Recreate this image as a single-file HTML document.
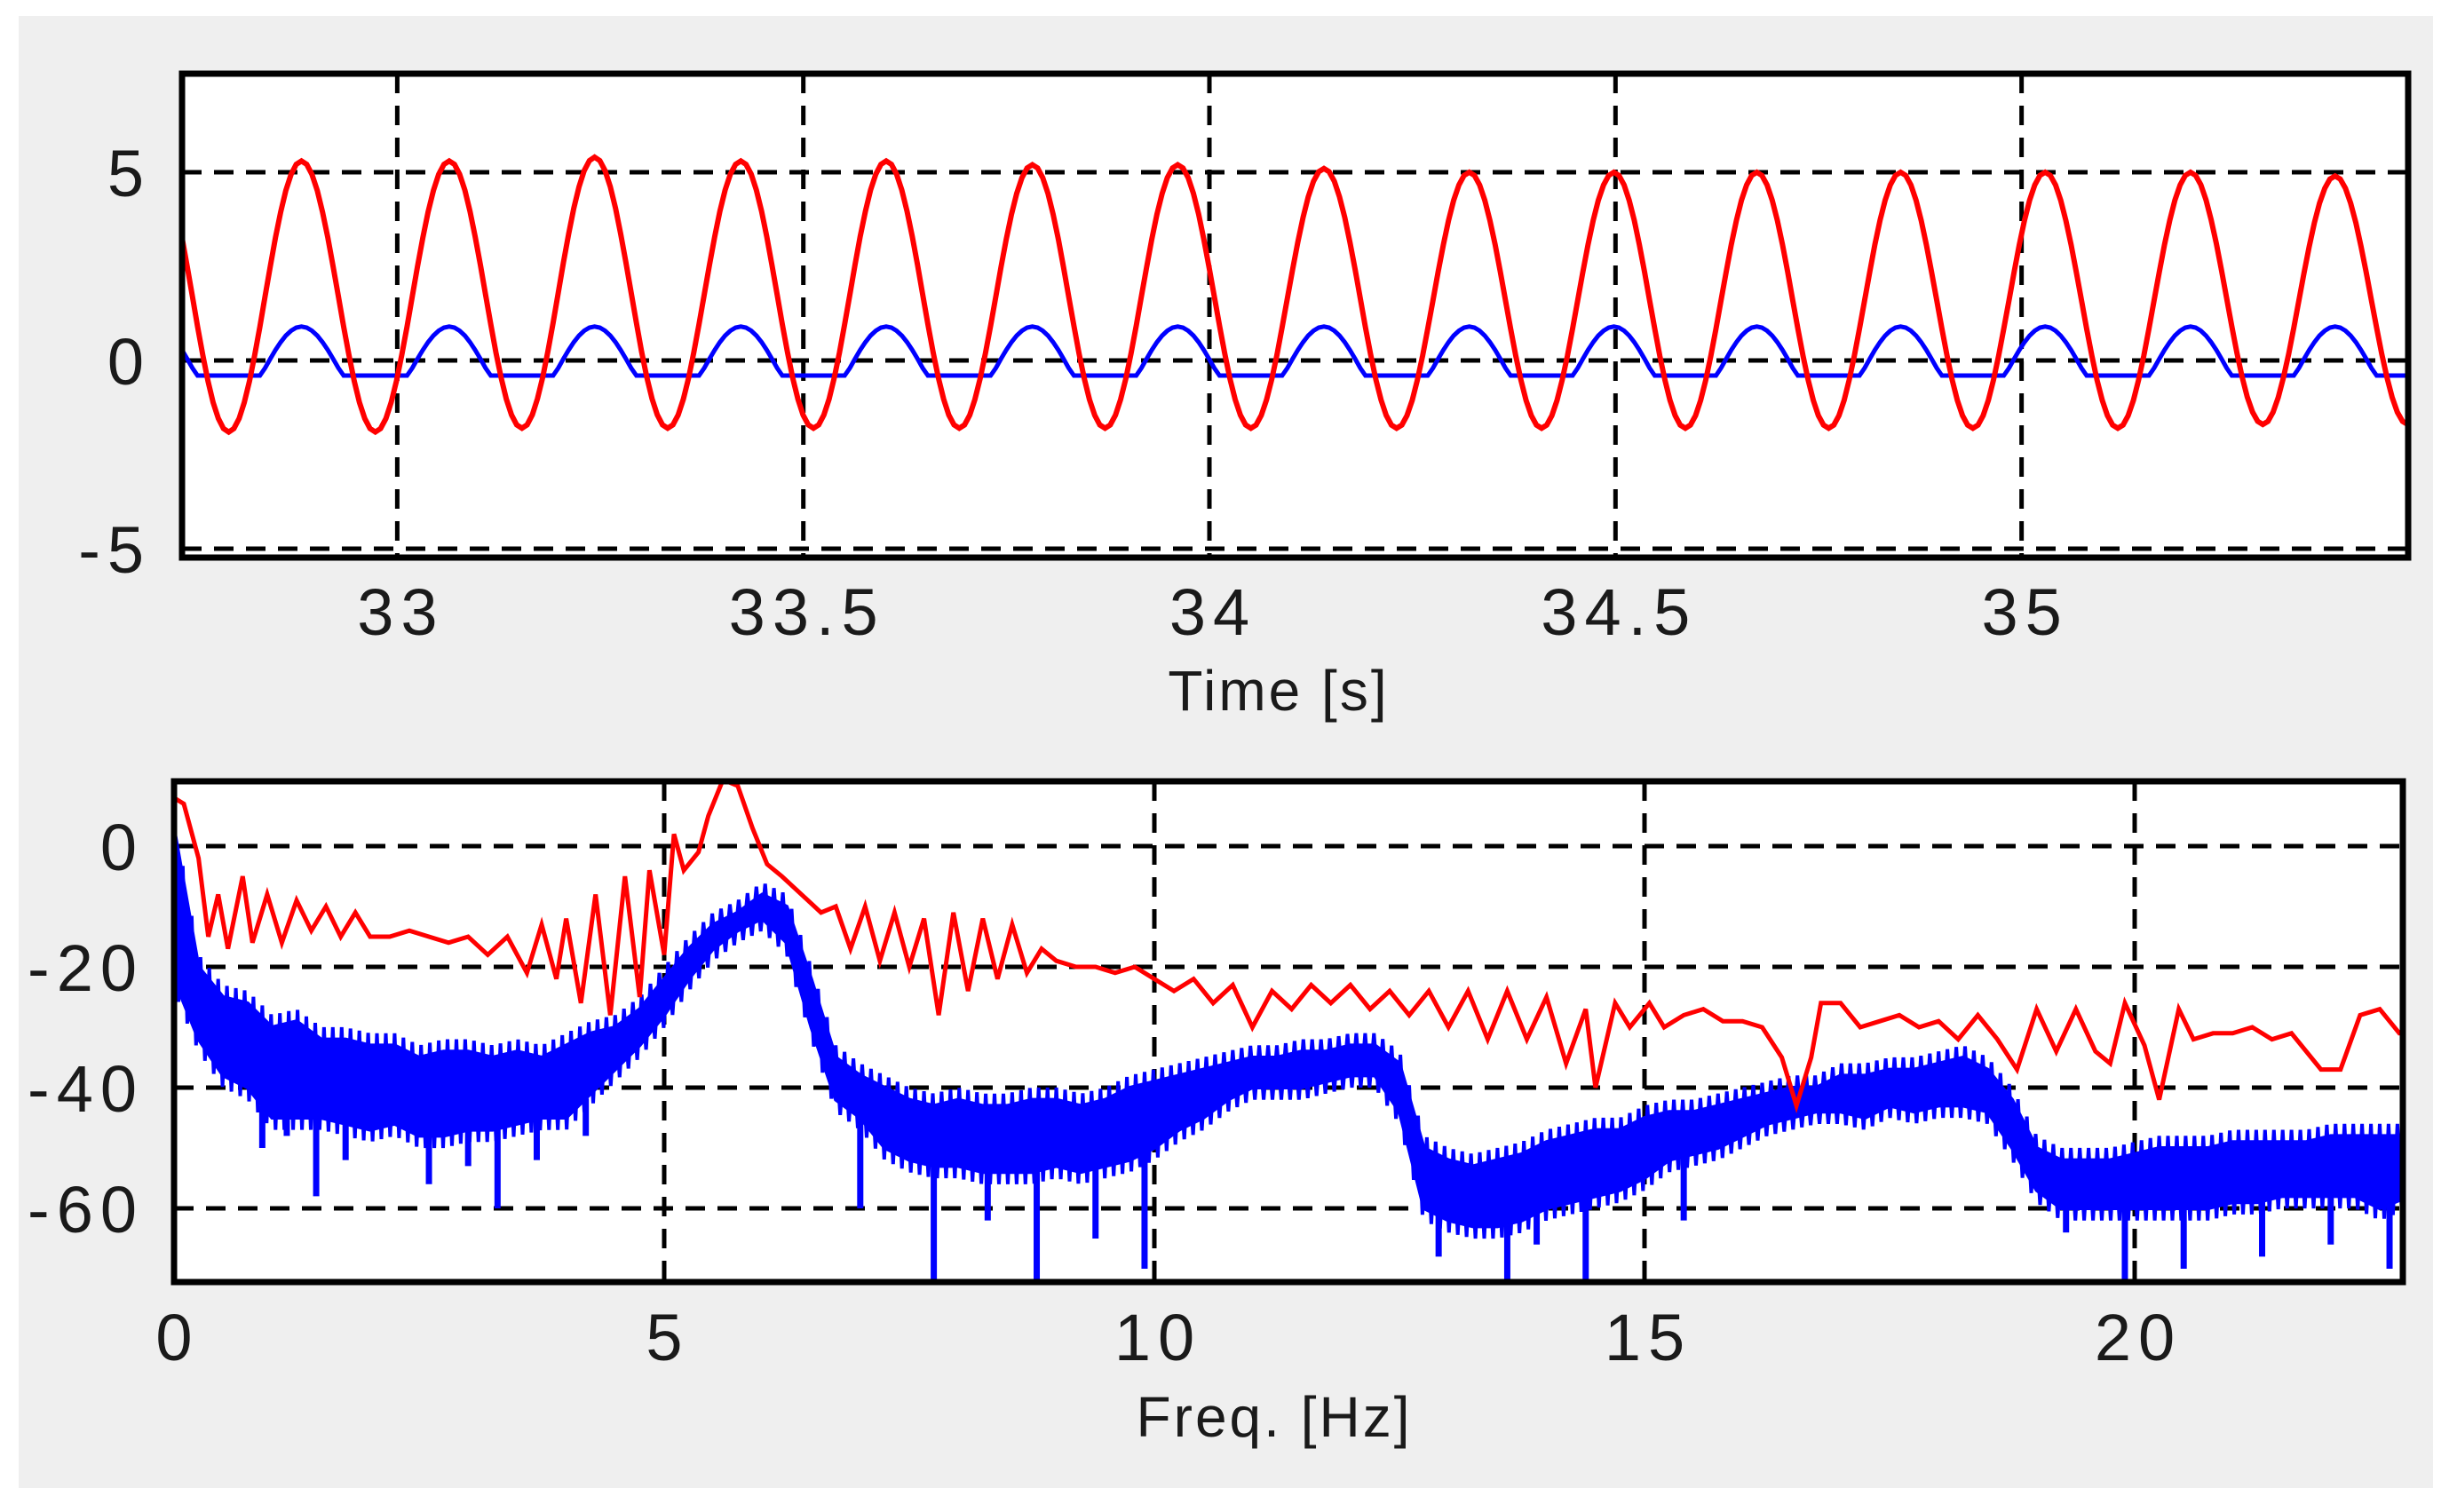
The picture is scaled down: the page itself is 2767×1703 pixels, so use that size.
<!DOCTYPE html>
<html><head><meta charset="utf-8">
<style>
html,body{margin:0;padding:0;background:#fff;}
body{width:2767px;height:1703px;position:relative;overflow:hidden;font-family:"Liberation Sans",sans-serif;}
#bg{position:absolute;left:21px;top:18px;width:2719px;height:1658px;background:#efefef;}
svg{position:absolute;left:0;top:0;}
.tick{font-size:74px;fill:#1a1a1a;letter-spacing:8px;}
.ttl{font-size:64px;fill:#1a1a1a;letter-spacing:3px;}
</style></head>
<body>
<div id="bg"></div>
<svg id="chart" width="2767" height="1703"></svg>
<script>
// ---- top (time) plot data ----
const timeTicks = [33, 33.5, 34, 34.5, 35];
const timeTickLabels = ["33", "33.5", "34", "34.5", "35"];
const ampTicks = [5, 0, -5];
const ampTickLabels = ["5", "0", "-5"];
const redPeakTimes = [32.703, 32.882, 33.064, 33.243, 33.423, 33.602, 33.782, 33.961, 34.141, 34.320, 34.498, 34.674, 34.851, 35.029, 35.208, 35.386, 35.565];
const redPeakValues = [5.3, 5.3, 5.3, 5.4, 5.3, 5.3, 5.2, 5.2, 5.1, 5.0, 5.0, 5.0, 5.0, 5.0, 5.0, 4.9, 4.9];
const redTroughValues = [-1.9, -1.9, -1.8, -1.8, -1.8, -1.8, -1.8, -1.8, -1.8, -1.8, -1.8, -1.8, -1.8, -1.8, -1.7, -1.7];
const bluePeakValues = [0.9, 0.9, 0.9, 0.9, 0.9, 0.9, 0.9, 0.9, 0.9, 0.9, 0.9, 0.9, 0.9, 0.9, 0.9, 0.9, 0.9];
const blueTroughValues = [-1.3, -1.3, -1.3, -1.3, -1.3, -1.3, -1.3, -1.3, -1.3, -1.3, -1.3, -1.3, -1.3, -1.3, -1.3, -1.3];
const blueFloor = -0.4;

// ---- bottom (spectrum) plot data ----
const freqTicks = [0, 5, 10, 15, 20];
const freqTickLabels = ["0", "5", "10", "15", "20"];
const dbTicks = [0, -20, -40, -60];
const dbTickLabels = ["0", "-20", "-40", "-60"];
const redFreqs = [0,0.1,0.25,0.35,0.45,0.55,0.7,0.8,0.95,1.1,1.25,1.4,1.55,1.7,1.85,2.0,2.2,2.4,2.6,2.8,3.0,3.2,3.4,3.6,3.75,3.9,4.0,4.15,4.3,4.45,4.6,4.75,4.85,5.0,5.1,5.2,5.35,5.45,5.6,5.75,5.9,6.05,6.2,6.4,6.6,6.75,6.9,7.05,7.2,7.35,7.5,7.65,7.8,7.95,8.1,8.25,8.4,8.55,8.7,8.85,9.0,9.2,9.4,9.6,9.8,10.0,10.2,10.4,10.6,10.8,11.0,11.2,11.4,11.6,11.8,12.0,12.2,12.4,12.6,12.8,13.0,13.2,13.4,13.6,13.8,14.0,14.2,14.4,14.5,14.7,14.85,15.05,15.2,15.4,15.6,15.8,16.0,16.2,16.4,16.55,16.7,16.8,17.0,17.2,17.4,17.6,17.8,18.0,18.2,18.4,18.6,18.8,19.0,19.2,19.4,19.6,19.75,19.9,20.1,20.25,20.45,20.6,20.8,21.0,21.2,21.4,21.6,21.9,22.1,22.3,22.5,22.7,22.8];
const redDb = [8,7,-2,-15,-8,-17,-5,-16,-8,-16,-9,-14,-10,-15,-11,-15,-15,-14,-15,-16,-15,-18,-15,-21,-13,-22,-12,-26,-8,-28,-5,-25,-4,-18,2,-4,-1,5,11,10,3,-3,-5,-8,-11,-10,-17,-10,-19,-11,-20,-12,-28,-11,-24,-12,-22,-13,-21,-17,-19,-20,-20,-21,-20,-22,-24,-22,-26,-23,-30,-24,-27,-23,-26,-23,-27,-24,-28,-24,-30,-24,-32,-24,-32,-25,-36,-27,-40,-26,-30,-26,-30,-28,-27,-29,-29,-30,-35,-43,-35,-26,-26,-30,-29,-28,-30,-29,-32,-28,-32,-37,-27,-34,-27,-34,-36,-26,-33,-42,-27,-32,-31,-31,-30,-32,-31,-37,-37,-28,-27,-31,-31];
const blueBinFreqs = [0,0.25,0.5,0.75,1,1.25,1.5,1.75,2,2.25,2.5,2.75,3,3.25,3.5,3.75,4,4.25,4.5,4.75,5,5.25,5.5,5.75,6,6.25,6.5,6.75,7,7.25,7.5,7.75,8,8.25,8.5,8.75,9,9.25,9.5,9.75,10,10.25,10.5,10.75,11,11.25,11.5,11.75,12,12.25,12.5,12.75,13,13.25,13.5,13.75,14,14.25,14.5,14.75,15,15.25,15.5,15.75,16,16.25,16.5,16.75,17,17.25,17.5,17.75,18,18.25,18.5,18.75,19,19.25,19.5,19.75,20,20.25,20.5,20.75,21,21.25,21.5,21.75,22,22.25,22.5,22.8];
const blueUpper = [3,-20,-25,-26,-30,-29,-32,-32,-33,-33,-35,-34,-34,-35,-34,-35,-33,-31,-30,-27,-22,-17,-13,-11,-8,-10,-22,-35,-38,-40,-42,-43,-42,-43,-43,-42,-42,-43,-42,-40,-39,-38,-37,-36,-35,-35,-34,-34,-33,-33,-36,-50,-52,-53,-52,-51,-49,-48,-47,-47,-45,-44,-44,-43,-42,-41,-40,-40,-38,-38,-37,-37,-36,-35,-37,-42,-50,-52,-52,-52,-51,-50,-50,-50,-49,-49,-49,-49,-48,-48,-48,-48];
const blueLower = [-22,-32,-38,-40,-45,-45,-45,-46,-47,-46,-48,-48,-47,-47,-46,-45,-45,-41,-37,-33,-28,-22,-17,-14,-12,-16,-30,-42,-45,-50,-52,-53,-53,-54,-54,-54,-53,-54,-53,-52,-50,-47,-45,-42,-40,-40,-40,-39,-38,-38,-44,-60,-62,-63,-63,-62,-60,-59,-58,-57,-55,-52,-51,-50,-48,-46,-45,-44,-44,-45,-43,-44,-43,-43,-44,-50,-57,-60,-60,-60,-60,-60,-60,-60,-59,-59,-58,-58,-58,-58,-60,-58];
const spikeFreqs = [0.9,1.15,1.45,1.75,2.15,2.6,3.0,3.3,3.7,4.2,7.0,7.75,8.3,8.8,9.4,9.9,12.9,13.6,13.9,14.4,15.4,19.3,19.9,20.5,21.3,22.0,22.6];
const spikeDb = [-50,-48,-58,-52,-44,-56,-53,-60,-52,-48,-60,-72,-62,-72,-65,-70,-68,-73,-66,-73,-62,-64,-73,-70,-68,-66,-70];

const NS = "http://www.w3.org/2000/svg";
const svg = document.getElementById("chart");
function mk(tag, attrs, parent) {
  const e = document.createElementNS(NS, tag);
  for (const k in attrs) e.setAttribute(k, attrs[k]);
  (parent || svg).appendChild(e);
  return e;
}

const T = {L: 205, R: 2712, Tp: 83, B: 628, x0: 32.735, x1: 35.476};
const F = {L: 196, R: 2706, Tp: 880, B: 1444, x0: 0};
const tx = v => T.L + (v - T.x0) / (T.x1 - T.x0) * (T.R - T.L);
const ty = v => 406 - v * 42.4;
const fx = v => F.L + (v - F.x0) / 5 * 552;
const fy = v => 953 - v * 6.8;

const defs = mk("defs", {});
const c1 = mk("clipPath", {id: "clipTop"}, defs);
mk("rect", {x: T.L, y: T.Tp, width: T.R - T.L, height: T.B - T.Tp}, c1);
const c2 = mk("clipPath", {id: "clipBot"}, defs);
mk("rect", {x: F.L, y: F.Tp, width: F.R - F.L, height: F.B - F.Tp}, c2);

// ---------- TOP PLOT ----------
const topArea = mk("rect", {x: T.L, y: T.Tp, width: T.R - T.L, height: T.B - T.Tp, fill: "#fff"});



const topGrid = mk("g", {stroke: "#000", "stroke-width": 5, "stroke-dasharray": "22 14"});


timeTicks.forEach(t => {
  const l = mk("line", {x1: tx(t), x2: tx(t), y1: T.Tp, y2: T.B}, topGrid);
  
  
});
ampTicks.forEach(v => {
  const l = mk("line", {x1: T.L, x2: T.R, y1: ty(v), y2: ty(v)}, topGrid);
  
  
});

function cosSeg(pts, ta, va, tb, vb, floor) {
  const n = 14;
  for (let i = 1; i <= n; i++) {
    const u = i / n;
    let v = va + (vb - va) * (1 - Math.cos(Math.PI * u)) / 2;
    if (floor !== undefined && v < floor) v = floor;
    pts.push([ta + (tb - ta) * u, v]);
  }
}
function buildWave(peaks, troughs, floor) {
  const pts = [[redPeakTimes[0], Math.max(peaks[0], floor === undefined ? -99 : floor)]];
  for (let i = 0; i < troughs.length; i++) {
    const tp = redPeakTimes[i], tn = redPeakTimes[i + 1], tm = (tp + tn) / 2;
    cosSeg(pts, tp, peaks[i], tm, troughs[i], floor);
    cosSeg(pts, tm, troughs[i], tn, peaks[i + 1], floor);
  }
  return pts.map(p => tx(p[0]).toFixed(1) + "," + ty(p[1]).toFixed(1)).join(" ");
}
const topSeries = mk("g", {"clip-path": "url(#clipTop)", fill: "none"});
const blueT = mk("polyline", {points: buildWave(bluePeakValues, blueTroughValues, blueFloor), stroke: "#0000ff", "stroke-width": 5}, topSeries);


const redT = mk("polyline", {points: buildWave(redPeakValues, redTroughValues), stroke: "#ff0000", "stroke-width": 6}, topSeries);



const topFrame = mk("rect", {x: T.L, y: T.Tp, width: T.R - T.L, height: T.B - T.Tp, fill: "none", stroke: "#000", "stroke-width": 7});



ampTicks.forEach((v, i) => {
  const t = mk("text", {x: 170, y: ty(v) + 27, "text-anchor": "end", class: "tick"});
  t.textContent = ampTickLabels[i];
  
  
});
timeTicks.forEach((v, i) => {
  const t = mk("text", {x: tx(v) + 4, y: 715, "text-anchor": "middle", class: "tick"});
  t.textContent = timeTickLabels[i];
  
  
});
const tt = mk("text", {x: 1440, y: 800, "text-anchor": "middle", class: "ttl"});
tt.textContent = "Time [s]";



// ---------- BOTTOM PLOT ----------
const botArea = mk("rect", {x: F.L, y: F.Tp, width: F.R - F.L, height: F.B - F.Tp, fill: "#fff"});



const botGrid = mk("g", {stroke: "#000", "stroke-width": 5, "stroke-dasharray": "22 14"});


freqTicks.forEach(f => {
  const l = mk("line", {x1: fx(f), x2: fx(f), y1: F.Tp, y2: F.B}, botGrid);
  
  
});
dbTicks.forEach(v => {
  const l = mk("line", {x1: F.L, x2: F.R, y1: fy(v), y2: fy(v)}, botGrid);
  
  
});

const botSeries = mk("g", {"clip-path": "url(#clipBot)"});
let band = blueBinFreqs.map((f, i) => fx(f).toFixed(1) + "," + fy(blueUpper[i]).toFixed(1));
for (let i = blueBinFreqs.length - 1; i >= 0; i--) band.push(fx(blueBinFreqs[i]).toFixed(1) + "," + fy(blueLower[i]).toFixed(1));
const bandEl = mk("polygon", {points: band.join(" "), fill: "#0000ff", stroke: "#0000ff", "stroke-width": 4}, botSeries);


function interp(arrX, arrY, x) {
  for (let i = 1; i < arrX.length; i++) if (x <= arrX[i]) {
    const u = (x - arrX[i - 1]) / (arrX[i] - arrX[i - 1]);
    return arrY[i - 1] + (arrY[i] - arrY[i - 1]) * u;
  }
  return arrY[arrY.length - 1];
}
const zz = [];
let k = 0;
for (let f = 0; f <= 22.8; f += 0.045, k++) {
  const up = interp(blueBinFreqs, blueUpper, f), lo = interp(blueBinFreqs, blueLower, f);
  const v = (k % 2 === 0) ? up + 2 : lo - 2;
  zz.push(fx(f).toFixed(1) + "," + fy(v).toFixed(1));
}
const zzEl = mk("polyline", {points: zz.join(" "), fill: "none", stroke: "#0000ff", "stroke-width": 4}, botSeries);


spikeFreqs.forEach((f, i) => {
  const lo = interp(blueBinFreqs, blueLower, f);
  const s = mk("line", {x1: fx(f), x2: fx(f), y1: fy(lo), y2: fy(spikeDb[i]), stroke: "#0000ff", "stroke-width": 7}, botSeries);
  
  
});
const redF = mk("polyline", {points: redFreqs.map((f, i) => fx(f).toFixed(1) + "," + fy(redDb[i]).toFixed(1)).join(" "), fill: "none", stroke: "#ff0000", "stroke-width": 5}, botSeries);



const botFrame = mk("rect", {x: F.L, y: F.Tp, width: F.R - F.L, height: F.B - F.Tp, fill: "none", stroke: "#000", "stroke-width": 7});



dbTicks.forEach((v, i) => {
  const t = mk("text", {x: 162, y: fy(v) + 27, "text-anchor": "end", class: "tick"});
  t.textContent = dbTickLabels[i];
  
  
});
freqTicks.forEach((v, i) => {
  const t = mk("text", {x: fx(v) + 4, y: 1532, "text-anchor": "middle", class: "tick"});
  t.textContent = freqTickLabels[i];
  
  
});
const ft = mk("text", {x: 1435, y: 1618, "text-anchor": "middle", class: "ttl"});
ft.textContent = "Freq. [Hz]";


</script>
</body></html>
